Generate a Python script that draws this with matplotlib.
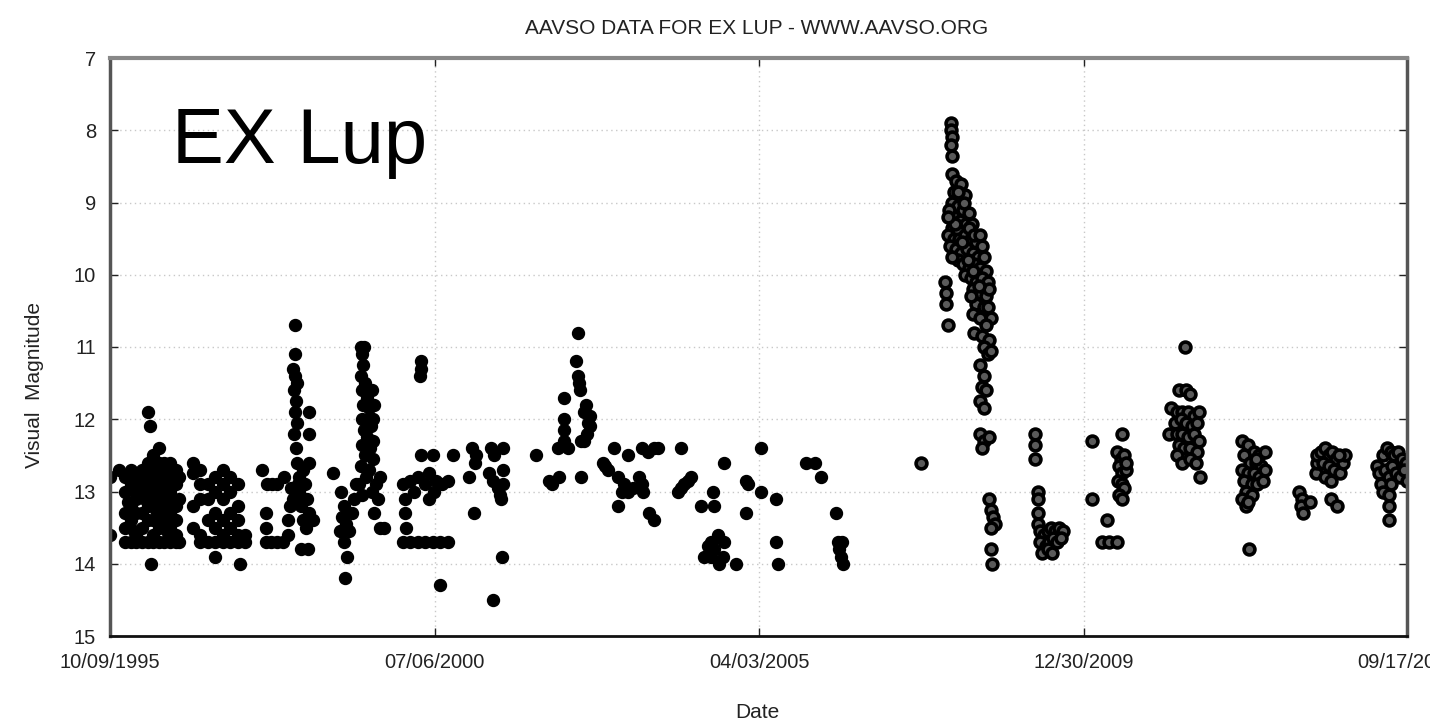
import numpy as np
import matplotlib
matplotlib.use("Agg")
import matplotlib.pyplot as plt
import matplotlib.dates as mdates

# observations as (JD - 2450000, visual magnitude), one list per observing season
obs_1995 = [(0, 12.8), (0, 13.6), (45, 12.7)]

obs_1996 = [
    (80, 12.8), (80, 13.0), (80, 13.3), (80, 13.5), (80, 13.7),
    (110, 12.7), (110, 12.9), (110, 13.2), (110, 13.4), (110, 13.7),
    (140, 12.8), (140, 13.0), (140, 13.1), (140, 13.3), (140, 13.6), (140, 13.7),
    (170, 12.7), (170, 12.9), (170, 13.3), (170, 13.5), (170, 13.7),
    (200, 12.6), (200, 12.8), (200, 13.0), (200, 13.2), (200, 13.4), (200, 13.7),
    (230, 12.5), (230, 12.7), (230, 12.9), (230, 13.1), (230, 13.4), (230, 13.6), (230, 13.7),
    (260, 12.4), (260, 12.6), (260, 12.8), (260, 13.0), (260, 13.3), (260, 13.5), (260, 13.7),
    (290, 12.6), (290, 12.7), (290, 12.9), (290, 13.1), (290, 13.2), (290, 13.4), (290, 13.7),
    (320, 12.6), (320, 12.8), (320, 13.0), (320, 13.3), (320, 13.5), (320, 13.7),
    (350, 12.7), (350, 12.9), (350, 13.2), (350, 13.4), (350, 13.6), (350, 13.7),
    (370, 12.8), (370, 13.1), (370, 13.7),
    (95, 13.15), (125, 13.55), (185, 13.1), (245, 13.25), (275, 13.2),
    (305, 13.55), (335, 13.15),
    (204, 11.9), (214, 12.1), (219, 14.0),
]

obs_1997 = [
    (440, 12.6), (440, 12.75), (440, 13.2), (440, 13.5),
    (480, 12.7), (480, 12.9), (480, 13.1), (480, 13.6), (480, 13.7),
    (520, 12.9), (520, 13.1), (520, 13.4), (520, 13.7),
    (560, 12.8), (560, 13.0), (560, 13.3), (560, 13.5), (560, 13.7),
    (600, 12.7), (600, 12.9), (600, 13.1), (600, 13.4), (600, 13.6), (600, 13.7),
    (640, 12.8), (640, 13.0), (640, 13.3), (640, 13.5), (640, 13.7),
    (680, 12.9), (680, 13.2), (680, 13.4), (680, 13.6), (680, 13.7),
    (720, 13.6), (720, 13.7),
    (561, 13.9), (694, 14.0),
]

obs_1998 = [
    (812, 12.7), (838, 12.9), (865, 12.9), (890, 12.9), (930, 12.8),
    (830, 13.3), (830, 13.5), (830, 13.7), (860, 13.7), (890, 13.7), (920, 13.7),
    (950, 13.6), (950, 13.4), (960, 13.2), (965, 12.95), (975, 13.1),
    (985, 10.7), (985, 11.1), (975, 11.3), (985, 11.4), (995, 11.5), (980, 11.6),
    (990, 11.75), (985, 11.9), (995, 12.05), (980, 12.2), (990, 12.4), (995, 12.6),
    (1060, 11.9), (1060, 12.2), (1060, 12.6), (1005, 12.8), (1030, 12.7),
    (1010, 13.0), (1040, 12.9), (1020, 13.2), (1050, 13.1), (1030, 13.4),
    (1060, 13.3), (1045, 13.5), (1080, 13.4), (1020, 13.8), (1055, 13.8),
    (1000, 12.9), (1000, 13.1),
]

obs_1999 = [
    (1191, 12.75), (1230, 13.0), (1245, 13.2), (1235, 13.35), (1260, 13.45),
    (1225, 13.55), (1275, 13.55), (1250, 13.7), (1265, 13.9), (1255, 14.2),
    (1290, 13.3), (1300, 13.1), (1310, 12.9),
    (1340, 11.0), (1355, 11.0), (1345, 11.1), (1350, 11.25), (1340, 11.4),
    (1360, 11.5), (1345, 11.6), (1370, 11.7), (1350, 11.8), (1380, 11.85),
    (1345, 12.0), (1375, 12.0), (1390, 12.1), (1355, 12.15), (1370, 12.25),
    (1400, 12.3), (1345, 12.35), (1385, 12.4), (1360, 12.5), (1400, 12.55),
    (1340, 12.65), (1380, 12.7), (1410, 11.8), (1400, 12.0), (1395, 11.6),
    (1330, 12.9), (1345, 13.05), (1420, 12.9), (1430, 13.1), (1395, 13.0),
    (1440, 12.8), (1365, 12.8), (1410, 13.3), (1440, 13.5), (1460, 13.5),
]

obs_2000 = [
    (1560, 12.9), (1575, 13.1), (1575, 13.3), (1580, 13.5),
    (1560, 13.7), (1600, 13.7), (1640, 13.7), (1680, 13.7), (1720, 13.7),
    (1760, 13.7), (1800, 13.7),
    (1656, 11.2), (1660, 11.3), (1652, 11.4),
    (1656, 12.5), (1720, 12.5), (1830, 12.5),
    (1600, 12.85), (1640, 12.8), (1680, 12.9), (1700, 12.75), (1740, 12.85),
    (1770, 12.9), (1800, 12.85), (1620, 13.0), (1730, 13.0), (1700, 13.1),
    (1760, 14.3),
]

obs_2001 = [
    (1929, 12.4), (1950, 12.5), (1945, 12.6), (1912, 12.8), (1940, 13.3),
    (2030, 12.4), (2050, 12.5), (2020, 12.75), (2045, 12.85), (2070, 12.95),
    (2080, 13.05), (2095, 12.4), (2095, 12.7), (2095, 12.9), (2085, 13.1),
    (2090, 13.9), (2040, 14.5),
]

obs_2002 = [
    (2270, 12.5), (2340, 12.85), (2355, 12.9), (2395, 12.8),
    (2420, 11.7), (2420, 12.0), (2420, 12.15), (2420, 12.3), (2390, 12.4), (2440, 12.4),
    (2495, 10.8), (2484, 11.2), (2495, 11.4), (2500, 11.5), (2505, 11.6),
    (2540, 11.8), (2530, 11.9), (2560, 11.95), (2550, 12.05), (2560, 12.1),
    (2545, 12.2), (2530, 12.3), (2511, 12.3), (2511, 12.8),
]

obs_2003 = [
    (2687, 12.4), (2628, 12.6), (2640, 12.65), (2655, 12.7),
    (2710, 12.8), (2740, 12.9), (2760, 13.0), (2790, 12.95), (2730, 13.0),
    (2762, 12.5), (2835, 12.4), (2870, 12.45), (2900, 12.4), (2925, 12.4),
    (2820, 12.8), (2835, 12.9), (2845, 13.0), (2708, 13.2),
    (2874, 13.3), (2900, 13.4),
]

obs_2004 = [
    (3045, 12.4), (3030, 13.0), (3045, 12.95), (3060, 12.9), (3080, 12.85),
    (3100, 12.8), (3152, 13.2), (3220, 13.2), (3216, 13.0), (3275, 12.6),
    (3168, 13.9), (3205, 13.7), (3243, 13.6), (3275, 13.7), (3220, 13.8),
    (3248, 14.0), (3205, 13.9), (3270, 13.9), (3190, 13.75), (3339, 14.0),
]

obs_2005 = [
    (3392, 12.85), (3405, 12.9), (3472, 12.4), (3472, 13.0), (3392, 13.3),
    (3552, 13.1), (3552, 13.7), (3563, 14.0),
]

obs_2006 = [
    (3713, 12.6), (3760, 12.6), (3793, 12.8), (3873, 13.3),
    (3884, 13.7), (3905, 13.7), (3890, 13.8), (3900, 13.9), (3910, 14.0),
]

obs_2007 = [(4327, 12.6)]

# the 2008 outburst and its decline
obs_2008 = [
    (4487, 7.9), (4487, 8.0), (4490, 8.1), (4487, 8.2), (4490, 8.35),
    (4490, 8.6), (4510, 8.7), (4540, 8.75), (4500, 8.85), (4530, 8.95), (4560, 8.9),
    (4490, 9.0), (4520, 9.05), (4550, 9.1), (4580, 9.15), (4500, 9.2),
    (4535, 9.25), (4565, 9.3), (4595, 9.3), (4490, 9.35), (4520, 9.4),
    (4470, 9.45), (4500, 9.5), (4530, 9.5), (4560, 9.45), (4590, 9.5),
    (4620, 9.55), (4650, 9.6), (4480, 9.6), (4510, 9.65), (4540, 9.7),
    (4570, 9.65), (4600, 9.7), (4630, 9.75), (4660, 9.75), (4520, 9.8),
    (4550, 9.85), (4580, 9.9), (4610, 9.85), (4640, 9.9), (4670, 9.95),
    (4560, 10.0), (4590, 10.05), (4620, 10.1), (4650, 10.05), (4680, 10.1),
    (4600, 10.2), (4640, 10.25), (4670, 10.3), (4690, 10.2), (4620, 10.4),
    (4475, 9.1), (4505, 9.3), (4545, 9.55), (4575, 9.8), (4605, 9.95),
    (4635, 10.15), (4660, 10.45), (4580, 9.35), (4610, 9.45), (4640, 9.45),
    (4555, 9.0), (4525, 8.85), (4490, 9.75), (4470, 9.2), (4590, 10.3),
    (4680, 10.45), (4700, 10.6),
    (4455, 10.1), (4460, 10.25), (4460, 10.4), (4470, 10.7),
    (4600, 10.55), (4640, 10.6), (4670, 10.7), (4610, 10.8), (4650, 10.85),
    (4690, 10.9), (4660, 11.0), (4680, 11.1), (4700, 11.05),
    (4640, 11.25), (4660, 11.4), (4650, 11.55), (4670, 11.6), (4640, 11.75),
    (4660, 11.85), (4640, 12.2), (4660, 12.3), (4690, 12.25), (4650, 12.4),
    (4690, 13.1), (4700, 13.25), (4710, 13.35), (4720, 13.45), (4700, 13.5),
    (4700, 13.8), (4705, 14.0),
]

obs_2009 = [
    (4935, 12.2), (4935, 12.35), (4935, 12.55), (4950, 13.0), (4950, 13.1),
    (4950, 13.3), (4950, 13.45),
    (4960, 13.55), (4980, 13.6), (5000, 13.55), (5020, 13.5), (5040, 13.55),
    (5060, 13.5), (5080, 13.55), (4960, 13.7), (4990, 13.75), (5010, 13.7),
    (5030, 13.65), (5050, 13.7), (5070, 13.65), (4970, 13.85), (5000, 13.8),
    (5025, 13.85),
]

obs_2010 = [
    (5235, 12.3), (5235, 13.1), (5315, 13.4), (5289, 13.7), (5330, 13.7),
    (5370, 13.7), (5395, 12.2), (5370, 12.45), (5390, 12.55), (5410, 12.5),
    (5380, 12.65), (5400, 12.75), (5420, 12.7), (5375, 12.85), (5395, 12.9),
    (5410, 12.95), (5380, 13.05), (5400, 13.1), (5420, 12.6),
]

obs_2011 = [
    (5732, 11.0), (5700, 11.6), (5740, 11.6), (5760, 11.65),
    (5660, 11.85), (5690, 11.9), (5720, 11.9), (5750, 11.9), (5780, 11.95), (5810, 11.9),
    (5680, 12.05), (5710, 12.0), (5740, 12.05), (5770, 12.1), (5800, 12.05),
    (5650, 12.2), (5690, 12.2), (5720, 12.2), (5750, 12.25), (5780, 12.2), (5810, 12.3),
    (5700, 12.35), (5730, 12.4), (5760, 12.4), (5800, 12.45),
    (5690, 12.5), (5716, 12.6), (5760, 12.55), (5790, 12.6), (5813, 12.8),
]

obs_2012 = [
    (6037, 12.3), (6070, 12.35), (6100, 12.45), (6130, 12.5), (6050, 12.5),
    (6080, 12.6), (6110, 12.6), (6140, 12.65), (6040, 12.7), (6070, 12.75),
    (6100, 12.75), (6130, 12.8), (6160, 12.7), (6050, 12.85), (6090, 12.9),
    (6120, 12.9), (6060, 13.0), (6040, 13.1), (6060, 13.2), (6090, 13.05),
    (6070, 13.15), (6110, 12.55), (6150, 12.85), (6160, 12.45), (6074, 13.8),
]

obs_2013 = [
    (6341, 13.0), (6355, 13.1), (6350, 13.2), (6365, 13.3), (6400, 13.15),
    (6430, 12.75), (6440, 12.6), (6435, 12.5), (6460, 12.45), (6480, 12.4),
    (6500, 12.5), (6520, 12.45), (6540, 12.55), (6470, 12.6), (6500, 12.65),
    (6530, 12.7), (6560, 12.75), (6575, 12.6), (6585, 12.5), (6480, 12.8),
    (6510, 12.85), (6555, 12.5), (6510, 13.1), (6545, 13.2),
]

obs_2014 = [
    (6757, 12.65), (6770, 12.75), (6790, 12.5), (6810, 12.4), (6830, 12.45),
    (6850, 12.5), (6870, 12.45), (6890, 12.55), (6910, 12.6), (6780, 12.9),
    (6800, 12.7), (6820, 12.8), (6840, 12.65), (6860, 12.75), (6880, 12.8),
    (6900, 12.7), (6920, 12.85), (6790, 13.0), (6822, 13.05), (6822, 13.2),
    (6822, 13.4), (6830, 12.9),
]

early = (obs_1995 + obs_1996 + obs_1997 + obs_1998 + obs_1999 + obs_2000
         + obs_2001 + obs_2002 + obs_2003 + obs_2004 + obs_2005 + obs_2006)
late = obs_2007 + obs_2008 + obs_2009 + obs_2010 + obs_2011 + obs_2012 + obs_2013 + obs_2014

tick_dates = ["1995-10-09", "2000-07-06", "2005-04-03", "2009-12-30", "2014-09-17"]

jd0 = np.datetime64("1995-10-09T12:00")


def to_dates(obs):
    d = np.array([o[0] for o in obs])
    m = np.array([o[1] for o in obs])
    t = jd0 + (d * 86400).astype("timedelta64[s]")
    return t.astype("datetime64[ms]").astype(object), m


plt.rcParams["font.family"] = ["Liberation Sans", "DejaVu Sans"]

fig = plt.figure(figsize=(14.3, 7.24), dpi=100)
ax = fig.add_axes([110 / 1430, 88 / 724, 1297 / 1430, 578 / 724])

t, m = to_dates(early)
ax.plot(t, m, "o", ms=8.6, mfc="black", mec="black", mew=1.0, ls="none")
t, m = to_dates(late)
ax.plot(t, m, "o", ms=7.8, mfc="#5a5a5a", mec="black", mew=2.6, ls="none")

ticks = [np.datetime64(s).astype(object) for s in tick_dates]
ax.set_xlim(ticks[0], ticks[-1])
ax.set_xticks(ticks)
ax.xaxis.set_major_formatter(mdates.DateFormatter("%m/%d/%Y"))
ax.set_ylim(15, 7)
ax.set_yticks(range(7, 16))

ax.grid(True, color="#c8c8c8", lw=1.0, ls=(0, (1, 2.5)))
ax.tick_params(direction="in", length=6, width=1, top=True, right=True,
               labelsize=14.5, colors="#222222")
ax.tick_params(axis="x", pad=12)
ax.tick_params(axis="y", pad=10)
for side in ["left", "right"]:
    ax.spines[side].set_color("#555555")
    ax.spines[side].set_linewidth(2.5)
ax.spines["top"].set_color("#888888")
ax.spines["top"].set_linewidth(3)
ax.spines["bottom"].set_color("#111111")
ax.spines["bottom"].set_linewidth(2)

fig.text(757 / 1430, 1 - 28 / 724, "AAVSO DATA FOR EX LUP - WWW.AAVSO.ORG",
         ha="center", va="center", fontsize=15, color="#222222")
fig.text(757 / 1430, 1 - 712 / 724, "Date", ha="center", va="center",
         fontsize=15, color="#222222")
fig.text(35 / 1430, 1 - 385 / 724, "Visual  Magnitude", ha="center", va="center",
         rotation=90, fontsize=15, color="#222222")
fig.text(172 / 1430, 1 - 163 / 724, "EX Lup", ha="left", va="baseline",
         fontsize=56, color="black")

fig.savefig("out.png", dpi=100)
